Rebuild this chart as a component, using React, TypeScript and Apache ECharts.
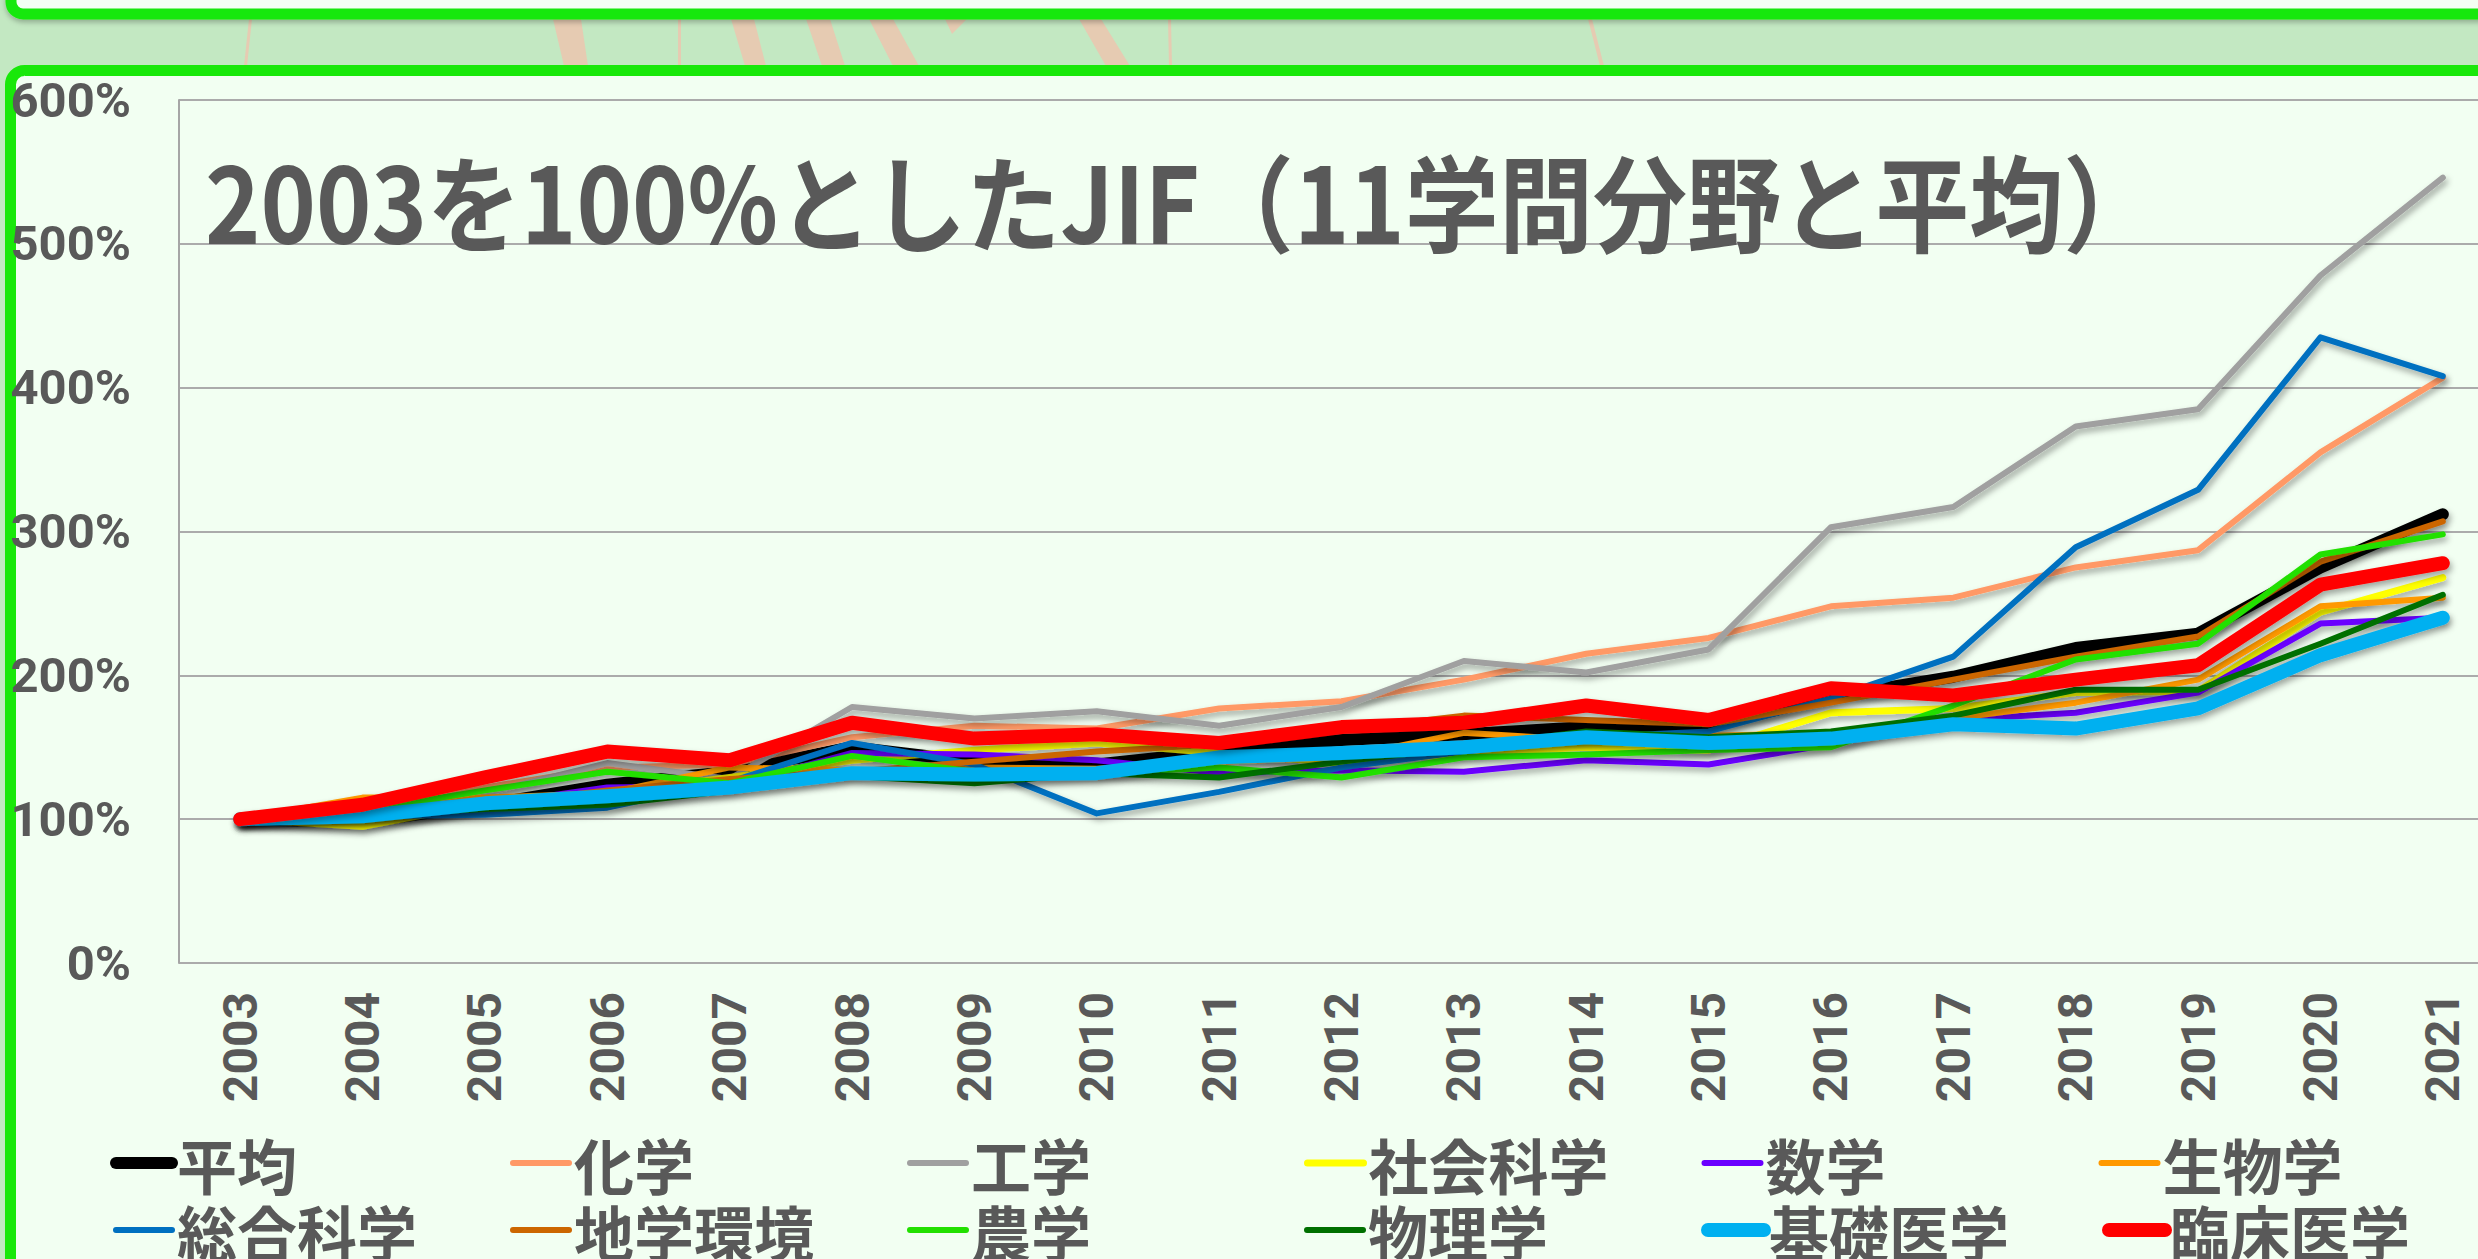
import React, { useEffect, useRef } from 'react';
import * as echarts from 'echarts';

// ---------- data ----------
const years = ['2003','2004','2005','2006','2007','2008','2009','2010','2011','2012','2013','2014','2015','2016','2017','2018','2019','2020','2021'];
const yTicks = [0, 100, 200, 300, 400, 500, 600];

const seriesNames = ['平均','化学','工学','社会科学','数学','生物学','総合科学','地学環境','農学','物理学','基礎医学','臨床医学'];

const heikin     = [100, 98, 110, 124, 133, 150, 140, 138, 147, 155, 159, 164, 165, 185, 199, 219, 229, 275, 312];
const kagaku     = [100, 107, 122, 136, 138, 157, 165, 163, 177, 182, 197, 215, 226, 248, 254, 275, 287, 355, 407];
const kougaku    = [100, 104, 118, 139, 128, 178, 170, 175, 165, 178, 210, 202, 218, 303, 317, 373, 385, 478, 546];
const shakai     = [100, 95, 111, 118, 129, 141, 148, 153, 146, 139, 146, 150, 148, 174, 177, 188, 189, 244, 268];
const suugaku    = [100, 100, 110, 122, 123, 146, 145, 141, 132, 134, 133, 141, 138, 152, 169, 174, 188, 236, 240];
const seibutsu   = [100, 115, 115, 118, 136, 134, 136, 135, 140, 143, 160, 155, 158, 160, 170, 181, 197, 248, 254];
const sougou     = [100, 102, 103, 108, 126, 153, 138, 104, 119, 136, 147, 157, 161, 184, 213, 289, 329, 435, 408];
const chigaku    = [100, 103, 110, 120, 128, 133, 140, 147, 152, 162, 172, 169, 166, 181, 197, 213, 227, 279, 307];
const nougaku    = [100, 106, 120, 133, 125, 144, 133, 132, 136, 129, 143, 145, 148, 150, 179, 211, 222, 284, 298];
const butsuri    = [100, 103, 107, 110, 120, 130, 125, 132, 129, 140, 150, 161, 157, 161, 172, 190, 190, 222, 256];
const kiso       = [100, 102, 111, 116, 122, 132, 131, 132, 143, 146, 150, 157, 153, 156, 166, 163, 177, 214, 240];
const rinshou    = [100, 110, 129, 147, 141, 167, 156, 159, 153, 164, 167, 179, 169, 191, 186, 197, 207, 263, 278];

const seriesValues = [heikin, kagaku, kougaku, shakai, suugaku, seibutsu, sougou, chigaku, nougaku, butsuri, kiso, rinshou];

const TITLE = '2003を100%としたJIF（11学問分野と平均）';

// ---------- styles ----------
const seriesColors = ['#000000','#ff9966','#a0a0a0','#ffff00','#6a00ff','#ff9900','#0070c0','#cc6600','#22e000','#007000','#00b0f0','#ff0000'];
const seriesWidths = [12, 6, 6, 7, 6, 6, 6, 6, 6, 6, 14, 14];

const TEXT = '#595959';
const FONT_NUM = "Roboto, 'Liberation Sans', sans-serif";
const FONT_JP = "'Noto Sans CJK JP', 'Noto Sans CJK SC', sans-serif";
const BG = '#c3e8c2';
const PANEL = '#f2fff2';
const BORDER = '#19e80a';
const PEACH = '#e6cbb2';

const stripes: number[][][] = [
  [[249, 19], [252, 19], [247, 66], [244, 66]],
  [[553, 19], [581, 19], [588, 66], [564, 66]],
  [[678, 19], [681, 19], [681, 66], [678, 66]],
  [[731, 19], [754, 19], [766, 66], [745, 66]],
  [[806, 19], [830, 19], [845, 66], [822, 66]],
  [[869, 19], [893, 19], [919, 66], [893, 66]],
  [[945, 19], [967, 19], [952, 34]],
  [[1079, 19], [1101, 19], [1130, 66], [1106, 66]],
  [[1168, 19], [1171, 19], [1172, 66], [1169, 66]],
  [[1588, 19], [1592, 19], [1604, 66], [1600, 66]],
];

export default function App() {
  const ref = useRef<HTMLDivElement>(null);

  useEffect(() => {
    if (!ref.current) return;
    const chart = echarts.init(ref.current, null, { renderer: 'svg' });

    const series = seriesNames.map((name, i) => ({
      name,
      type: 'line',
      data: seriesValues[i],
      symbol: 'none',
      smooth: false,
      z: 2,
      lineStyle: {
        color: seriesColors[i],
        width: seriesWidths[i],
        cap: 'round',
        join: 'round',
        shadowColor: 'rgba(0,0,0,0.35)',
        shadowBlur: 6,
        shadowOffsetX: 2,
        shadowOffsetY: 4,
      },
      itemStyle: { color: seriesColors[i] },
      emphasis: { disabled: true },
    }));

    const graphics: any[] = [
      ...stripes.map((pts) => ({
        type: 'polygon',
        shape: { points: pts },
        style: { fill: PEACH },
        z: -3,
        silent: true,
      })),
      {
        type: 'rect',
        shape: { x: 11, y: -60, width: 2700, height: 74, r: 12 },
        style: { fill: '#f3fff3', stroke: BORDER, lineWidth: 11, shadowColor: 'rgba(0,0,0,0.25)', shadowBlur: 5, shadowOffsetY: 3 },
        z: -2,
        silent: true,
      },
      {
        type: 'rect',
        shape: { x: 10.5, y: 70.5, width: 2700, height: 1400, r: 14 },
        style: { fill: PANEL, stroke: BORDER, lineWidth: 11 },
        z: -2,
        silent: true,
      },
      {
        type: 'text',
        x: 205,
        y: 198,
        scaleX: 0.896,
        style: {
          text: TITLE,
          fontSize: 105,
          fontWeight: 'bold',
          fontFamily: FONT_JP,
          fill: TEXT,
          align: 'left',
          verticalAlign: 'middle',
        },
        z: 5,
        silent: true,
      },
    ];

    chart.setOption({
      animation: false,
      backgroundColor: BG,
      graphic: { elements: graphics, z: -5 },
      grid: { left: 179, right: -26, top: 100, bottom: 296, containLabel: false, outerBoundsMode: 'none' },
      xAxis: {
        type: 'category',
        data: years,
        boundaryGap: true,
        z: 1,
        axisTick: { show: false },
        axisLine: {
          show: true,
          lineStyle: { color: '#bdbdbd', width: 3, shadowColor: 'rgba(0,0,0,0.3)', shadowBlur: 4, shadowOffsetY: 3 },
        },
        axisLabel: {
          rotate: 90,
          margin: 29,
          color: TEXT,
          fontSize: 48,
          fontWeight: 'bold',
          fontFamily: FONT_NUM,
          interval: 0,
        },
        splitLine: { show: false },
      },
      yAxis: {
        type: 'value',
        min: yTicks[0],
        max: yTicks[yTicks.length - 1],
        interval: 100,
        z: 1,
        axisLine: { show: true, lineStyle: { color: '#a6a6a6', width: 2 } },
        axisTick: { show: false },
        axisLabel: {
          formatter: '{value}%',
          margin: 48,
          color: TEXT,
          fontSize: 49,
          fontWeight: 'bold',
          fontFamily: FONT_NUM,
        },
        splitLine: { show: true, lineStyle: { color: '#ababab', width: 2 } },
      },
      legend: {
        data: seriesNames,
        left: 110,
        top: 1129.5,
        width: 2600,
        orient: 'horizontal',
        padding: 0,
        itemGap: 0,
        itemWidth: 56,
        itemHeight: 14,
        selectedMode: false,
        itemStyle: { opacity: 0 },
        lineStyle: { width: 'inherit', cap: 'round', shadowBlur: 0 },
        textStyle: {
          color: TEXT,
          fontSize: 60,
          fontWeight: 'bold',
          fontFamily: FONT_JP,
          width: 333,
          lineHeight: 67,
        },
      },
      series,
    } as any);

    return () => chart.dispose();
  }, []);

  return (
    <div
      ref={ref}
      style={{ position: 'fixed', left: 0, top: 0, width: 2478, height: 1259 }}
    />
  );
}
